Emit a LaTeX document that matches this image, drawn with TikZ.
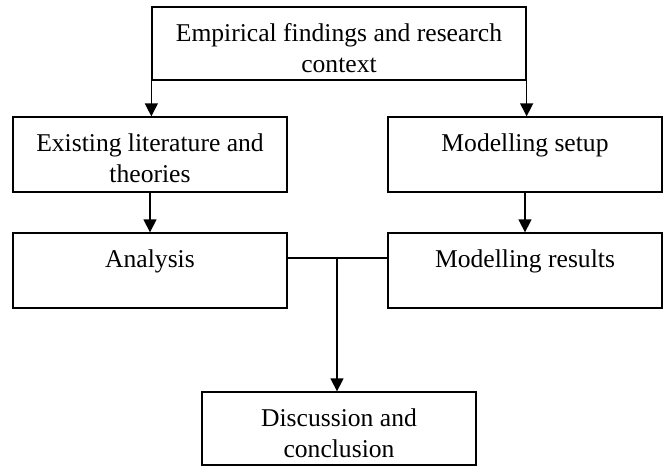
\documentclass[tikz,border=0pt]{standalone}
\usepackage{fontspec}
\setmainfont{Liberation Serif}
\usetikzlibrary{arrows.meta}
\newcommand{\boxtxt}[3]{\parbox[c][#2][t]{#1}{\centering\fontsize{12.8}{15.5}\selectfont\rule{0pt}{17pt}#3}}

\begin{document}
\begin{tikzpicture}[x=0.5pt,y=-0.5pt,
  box/.style={draw,line width=0.65pt,inner sep=0pt},
  arr/.style={line width=0.65pt,-{Triangle[length=6.5pt,width=6.5pt]}}]
  \useasboundingbox (0,0) rectangle (664,466);
  \node[box] (emp) at (339,43.5) {\boxtxt{187pt}{36.5pt}{Empirical findings and research\\context}};
  \node[box] (lit) at (150,154.5) {\boxtxt{137pt}{37.5pt}{Existing literature and\\theories}};
  \node[box] (setup) at (525,154.5) {\boxtxt{137pt}{37.5pt}{Modelling setup}};
  \node[box] (ana) at (150,270.5) {\boxtxt{137pt}{37.5pt}{Analysis}};
  \node[box] (res) at (525,270.5) {\boxtxt{137pt}{37.5pt}{Modelling results}};
  \node[box] (disc) at (339,428.5) {\boxtxt{137pt}{36.5pt}{Discussion and\\conclusion}};
  \coordinate (join) at (337,258);
  \draw[arr] (emp.south west) -- (emp.south west |- lit.north);
  \draw[arr] (emp.south east) -- (emp.south east |- setup.north);
  \draw[arr] (lit) -- (ana);
  \draw[arr] (setup) -- (res);
  \draw[line width=0.65pt] (ana.east |- join) -- (res.west |- join);
  \draw[arr] (join) -- (join |- disc.north);
\end{tikzpicture}
\end{document}
